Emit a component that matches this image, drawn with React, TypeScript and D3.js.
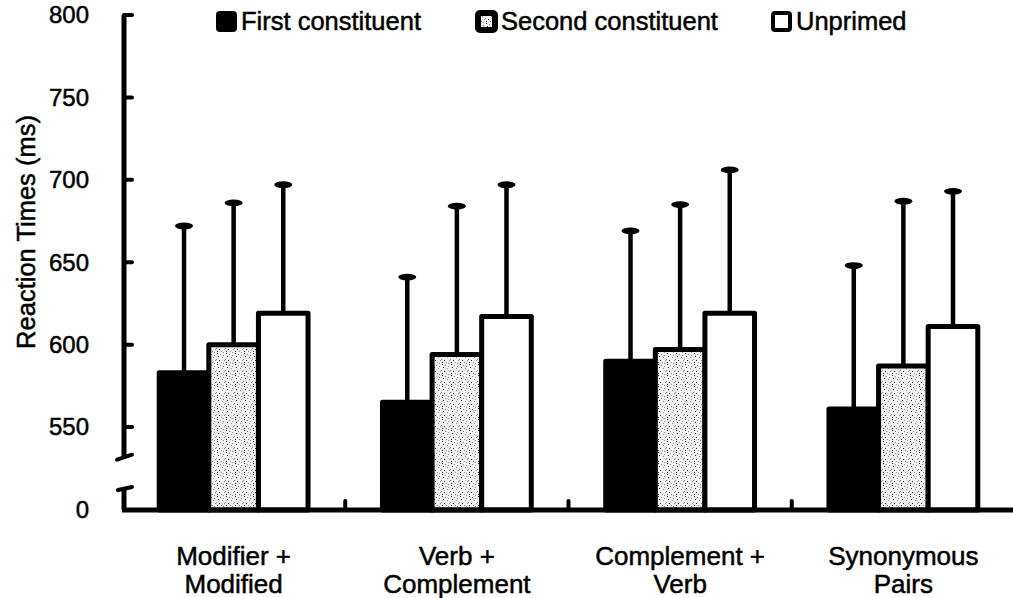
import React, { useEffect, useRef } from 'react';
import * as d3 from 'd3';

// Data
const categories = [['Modifier +', 'Modified'], ['Verb +', 'Complement'], ['Complement +', 'Verb'], ['Synonymous', 'Pairs']];
const seriesNames = ['First constituent', 'Second constituent', 'Unprimed'];
const firstMeans = [583, 565, 590, 561];
const firstTops = [672, 641, 669, 648];
const secondMeans = [600, 594, 597, 587];
const secondTops = [686, 684, 685, 687];
const unprimedMeans = [619, 617, 619, 611];
const unprimedTops = [697, 697, 706, 693];
const yTicks = [550, 600, 650, 700, 750, 800];

const W = 1013;
const H = 598;
const FONT = '"Liberation Sans", Arial, Helvetica, sans-serif';

const App = () => {
  const svgRef = useRef<SVGSVGElement>(null);

  useEffect(() => {
    const svg = d3.select(svgRef.current);
    svg.selectAll('*').remove();

    const axisX = 124;
    // broken scale: 0 at the baseline, 520..800 linear above the break
    const y = d3.scaleLinear().domain([0, 520, 800]).range([510, 476.5, 15]);

    const catKeys = categories.map(c => c.join(' '));
    const x0 = d3.scaleBand().domain(catKeys).range([122, 1015]);
    const x1 = d3.scaleBand().domain(seriesNames).range([0, x0.bandwidth()]).paddingOuter(0.75).paddingInner(0);

    const means = [firstMeans, secondMeans, unprimedMeans];
    const tops = [firstTops, secondTops, unprimedTops];

    // speckle pattern
    const defs = svg.append('defs');
    const pat = defs.append('pattern').attr('id', 'speckle').attr('patternUnits', 'userSpaceOnUse')
      .attr('width', 9).attr('height', 11);
    pat.append('rect').attr('width', 9).attr('height', 11).attr('fill', '#f2f2f2');
    const dots = [[1, 1], [4, 2], [7, 0], [2, 4], [6, 5], [0, 7], [3, 8], [8, 8], [5, 10], [1, 10], [7, 3]];
    dots.forEach(([dx, dy], i) => {
      pat.append('rect').attr('x', dx).attr('y', dy).attr('width', 1).attr('height', 1)
        .attr('fill', i % 3 === 0 ? '#222' : '#888');
    });

    const fills = ['#000', 'url(#speckle)', '#fff'];

    const g = svg.append('g');
    const txt = (sel: any) => sel.attr('font-family', FONT).attr('fill', '#000')
      .attr('stroke', '#000').attr('stroke-width', 0.5);

    // error bars (drawn first so bar outlines sit on top)
    catKeys.forEach((ck, ci) => {
      seriesNames.forEach((s, si) => {
        const cx = (x0(ck) as number) + (x1(s) as number) + x1.bandwidth() / 2;
        g.append('line').attr('x1', cx).attr('x2', cx)
          .attr('y1', y(means[si][ci])).attr('y2', y(tops[si][ci]))
          .attr('stroke', '#000').attr('stroke-width', 4.5);
        g.append('ellipse').attr('cx', cx).attr('cy', y(tops[si][ci]))
          .attr('rx', 9).attr('ry', 3.4).attr('fill', '#000');
      });
    });

    // bars
    catKeys.forEach((ck, ci) => {
      seriesNames.forEach((s, si) => {
        const bx = (x0(ck) as number) + (x1(s) as number);
        g.append('rect').attr('x', bx).attr('width', x1.bandwidth())
          .attr('y', y(means[si][ci])).attr('height', y(0) - y(means[si][ci]))
          .attr('fill', fills[si]).attr('stroke', '#000').attr('stroke-width', 5)
          .attr('stroke-linejoin', 'round');
      });
    });

    // x axis
    g.append('line').attr('x1', axisX - 2).attr('x2', W).attr('y1', y(0)).attr('y2', y(0))
      .attr('stroke', '#000').attr('stroke-width', 5);
    catKeys.slice(1).forEach(ck => {
      const tx = x0(ck) as number;
      g.append('line').attr('x1', tx).attr('x2', tx).attr('y1', y(0)).attr('y2', y(0) - 9)
        .attr('stroke', '#000').attr('stroke-width', 4).attr('stroke-linecap', 'round');
    });

    // y axis with break
    const breakTop = y(532);
    const breakBottom = y(0) - 21;
    g.append('line').attr('x1', axisX).attr('x2', axisX).attr('y1', y(800)).attr('y2', breakTop)
      .attr('stroke', '#000').attr('stroke-width', 5);
    g.append('line').attr('x1', axisX - 7).attr('x2', axisX + 8).attr('y1', breakTop + 3).attr('y2', breakTop - 2)
      .attr('stroke', '#000').attr('stroke-width', 4).attr('stroke-linecap', 'round');
    g.append('line').attr('x1', axisX).attr('x2', axisX).attr('y1', breakBottom).attr('y2', y(0))
      .attr('stroke', '#000').attr('stroke-width', 5);
    g.append('line').attr('x1', axisX - 6).attr('x2', axisX + 8).attr('y1', breakBottom + 1).attr('y2', breakBottom - 2)
      .attr('stroke', '#000').attr('stroke-width', 4).attr('stroke-linecap', 'round');

    yTicks.forEach(t => {
      g.append('line').attr('x1', axisX).attr('x2', axisX + 8).attr('y1', y(t)).attr('y2', y(t))
        .attr('stroke', '#000').attr('stroke-width', 4).attr('stroke-linecap', 'round');
    });
    [...yTicks, 0].forEach(t => {
      g.append('text').attr('x', 89).attr('y', y(t)).attr('dy', '0.35em')
        .attr('text-anchor', 'end').attr('font-size', 24).call(txt)
        .text(t);
    });

    // y title
    g.append('text').attr('transform', 'translate(35,232) rotate(-90)')
      .attr('text-anchor', 'middle').attr('font-size', 25.5).call(txt)
      .text('Reaction Times (ms)');

    // x labels
    categories.forEach((lines, ci) => {
      const cx = (x0(catKeys[ci]) as number) + x0.bandwidth() / 2;
      lines.forEach((ln, li) => {
        g.append('text').attr('x', cx).attr('y', 565 + li * 28)
          .attr('text-anchor', 'middle').attr('font-size', 26).call(txt)
          .text(ln);
      });
    });

    // legend
    const legendX = [216, 476, 771];
    seriesNames.forEach((s, si) => {
      const lg = g.append('g').attr('transform', `translate(${legendX[si]},11)`);
      lg.append('rect').attr('x', 2).attr('y', 2).attr('width', 17).attr('height', 17).attr('rx', 2)
        .attr('fill', fills[si]).attr('stroke', '#000').attr('stroke-width', si === 1 ? 6 : 4);
      lg.append('text').attr('x', 25).attr('y', 19).attr('font-size', 25.5).call(txt)
        .text(s);
    });
  }, []);

  return <svg ref={svgRef} width={W} height={H} style={{ display: 'block', position: 'absolute', left: 0, top: 0 }} />;
};

export default App;
